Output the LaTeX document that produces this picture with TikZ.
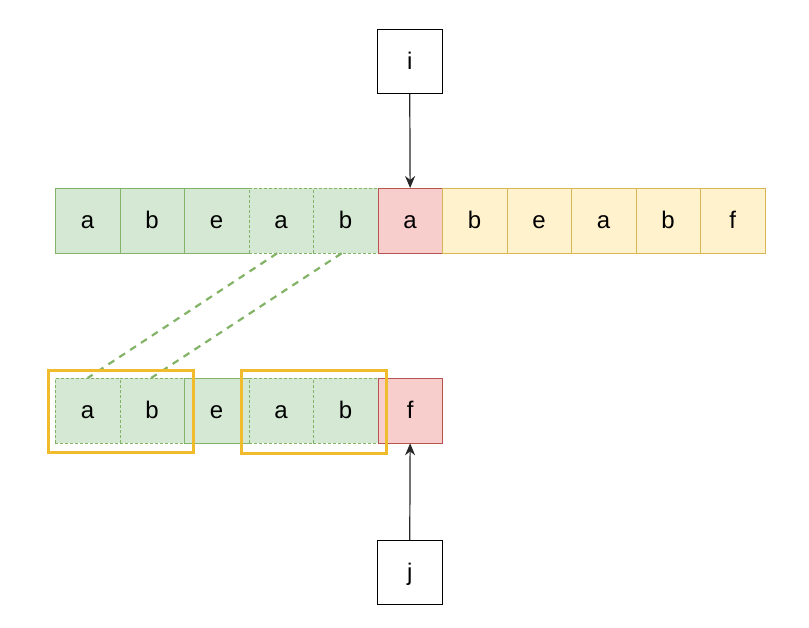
\documentclass[tikz,border=0pt]{standalone}
\usepackage{fontspec}
\setmainfont{Liberation Sans}
\usetikzlibrary{arrows.meta}
\definecolor{gfill}{HTML}{D5E8D4}
\definecolor{gline}{HTML}{82B366}
\definecolor{rfill}{HTML}{F8CECC}
\definecolor{rline}{HTML}{B85450}
\definecolor{yfill}{HTML}{FFF2CC}
\definecolor{yline}{HTML}{D6B656}
\definecolor{hl}{HTML}{F0BC2E}
\tikzset{
  txt/.style={font=\fontsize{24}{24}\selectfont, text height=15pt, text depth=0pt},
  cell/.style={draw, minimum width=64.5pt, minimum height=64.5pt, inner sep=0pt, line width=0.8pt, txt, anchor=north west},
  gcell/.style={cell, fill=gfill, draw=gline},
  gdcell/.style={gcell, dash pattern=on 3pt off 2pt},
  rcell/.style={cell, fill=rfill, draw=rline},
  ycell/.style={cell, fill=yfill, draw=yline},
  ptr/.style={draw=black, line width=0.9pt, minimum size=64.5pt, inner sep=0pt, txt},
  arr/.style={draw=black!85, line width=1.2pt, -{Stealth[length=12pt,width=10pt]}},
  link/.style={draw=gline, line width=2.2pt, dash pattern=on 7pt off 6pt},
  hlbox/.style={draw=hl, line width=3pt}
}
\begin{document}
\begin{tikzpicture}[x=1pt,y=-1pt]
\useasboundingbox (0,0) rectangle (809,627);
% top row
\node[gcell]  (t0) at (55,188) {a};
\node[gcell]  (t1) at (119.5,188) {b};
\node[gcell]  (t2) at (184,188) {e};
\node[gdcell] (t3) at (248.5,188) {a};
\node[gdcell] (t4) at (313,188) {b};
\node[rcell]  (t5) at (377.5,188) {a};
\node[ycell]  (t6) at (442,188) {b};
\node[ycell]  (t7) at (506.5,188) {e};
\node[ycell]  (t8) at (571,188) {a};
\node[ycell]  (t9) at (635.5,188) {b};
\node[ycell]  (t10) at (700,188) {f};
% bottom row
\node[gdcell] (b0) at (55,378) {a};
\node[gdcell] (b1) at (119.5,378) {b};
\node[gcell]  (b2) at (184,378) {e};
\node[gdcell] (b3) at (248.5,378) {a};
\node[gdcell] (b4) at (313,378) {b};
\node[rcell]  (b5) at (377.5,378) {f};
% pointers
\node[ptr] (i) at (409.75,61.5) {i};
\node[ptr] (j) at (409.75,572.5) {j};
\draw[arr] (i.south) -- (t5.north);
\draw[arr] (j.north) -- (b5.south);
% links
\coordinate (l1a) at ([xshift=-4pt]t3.south);
\coordinate (l1b) at (b0.north);
\coordinate (l2a) at ([xshift=-4pt]t4.south);
\coordinate (l2b) at ([xshift=-1pt]b1.north);
\draw[link] (l1a) -- (l1b);
\draw[link] (l2a) -- (l2b);
% highlight boxes
\node[hlbox, minimum width=145pt, minimum height=82pt, inner sep=0pt, anchor=north west] (h1) at (47,369) {};
\node[hlbox, minimum width=145pt, minimum height=83pt, inner sep=0pt, anchor=north west] (h2) at (240,369) {};
\end{tikzpicture}
\end{document}
